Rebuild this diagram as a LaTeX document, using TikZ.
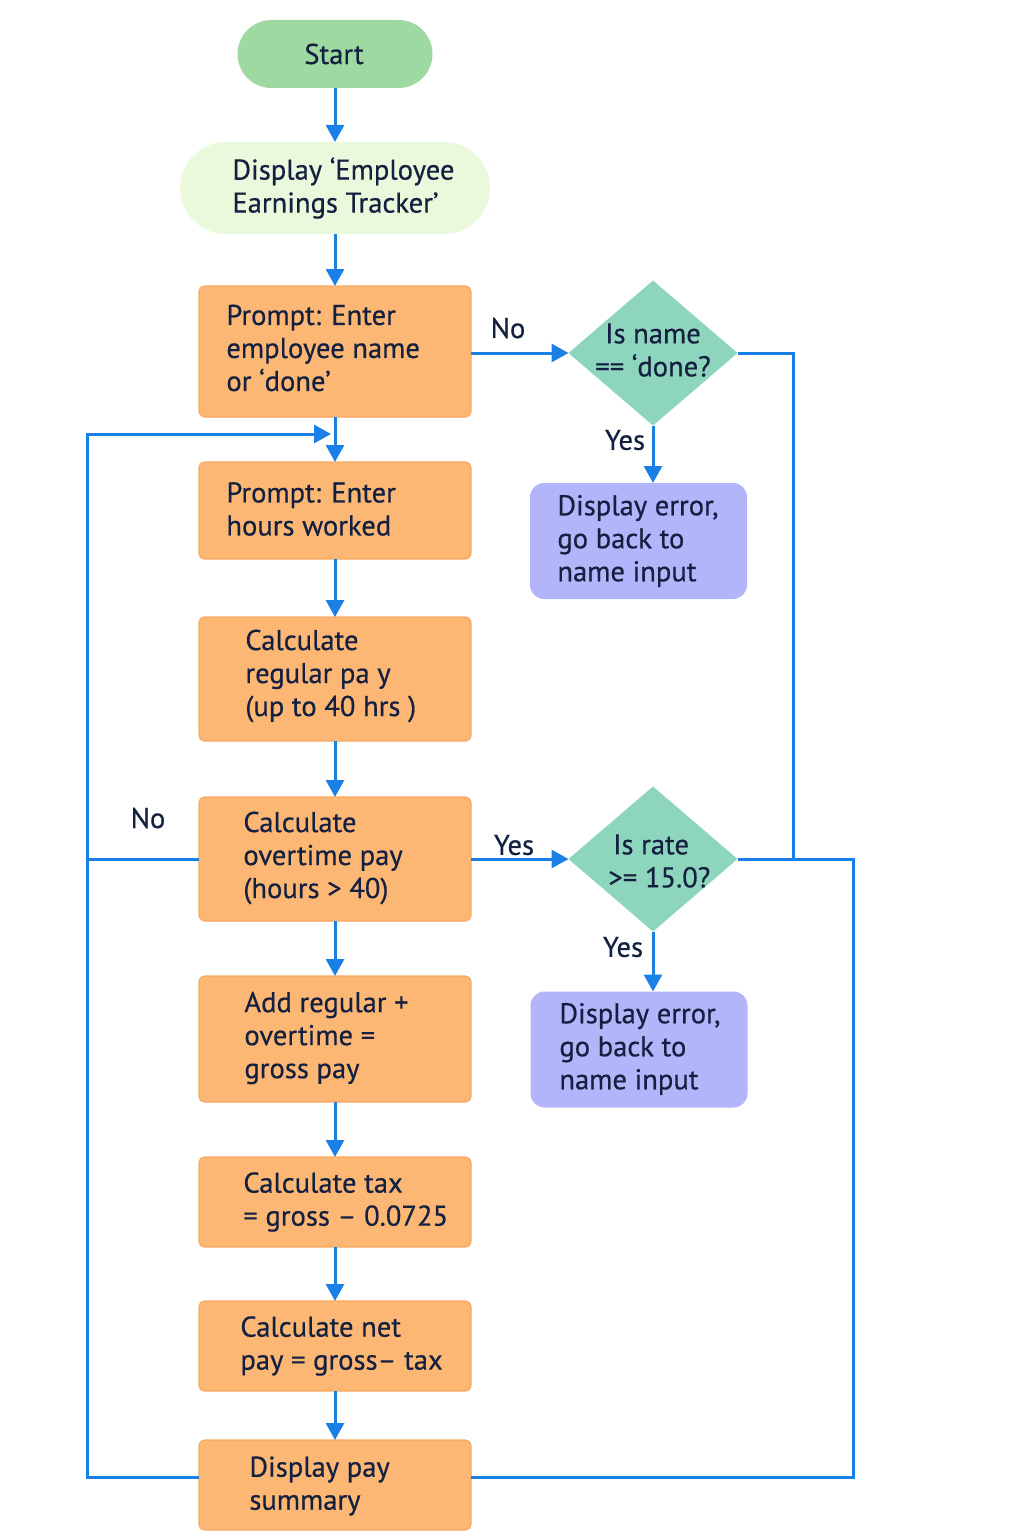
\documentclass[tikz,border=0pt]{standalone}
\usepackage{fontspec}
\setmainfont{PT Sans}[FakeBold=0.5]
\usetikzlibrary{shapes.geometric,arrows.meta,calc}
\definecolor{ink}{HTML}{142040}
\definecolor{startF}{HTML}{9ED9A2}
\definecolor{dispF}{HTML}{EAF8DC}
\definecolor{orangeF}{HTML}{FDB775}
\definecolor{orangeD}{HTML}{F7AA62}
\definecolor{tealF}{HTML}{8ED5BE}
\definecolor{purpleF}{HTML}{B3B5FA}
\definecolor{flowblue}{HTML}{1A80E6}
\begin{document}
\begin{tikzpicture}[x=0.5pt,y=-0.5pt,
  shp/.style={inner sep=0pt, outer sep=0pt},
  proc/.style={shp, rectangle, rounded corners=3pt, fill=orangeF, draw=orangeD, line width=0.6pt, minimum width=136pt},
  errbox/.style={shp, rectangle, rounded corners=7pt, fill=purpleF, minimum width=108.5pt, minimum height=58pt},
  dec/.style={shp, diamond, fill=tealF, minimum width=84.5pt, minimum height=72.5pt},
  term/.style={shp, rectangle},
  txt/.style={font=\fontsize{14.3}{16.5}\selectfont, text=ink, align=left, inner sep=0pt},
  flow/.style={draw=flowblue, line width=1.5pt},
  arr/.style={flow, -{Triangle[length=8.5pt,width=9pt]}}
]
\useasboundingbox (0,0) rectangle (1024,1536);

% shapes
\node[term, fill=startF, rounded corners=17pt, minimum width=97.5pt, minimum height=34pt] (start) at (335,54) {};
\node[term, fill=dispF, rounded corners=23pt, minimum width=155pt, minimum height=46pt] (disp) at (335,188) {};
\node[proc, minimum height=65.5pt] (pname) at (335,351.5) {};
\node[proc, minimum height=48.5pt] (phours) at (335,510.5) {};
\node[proc, minimum height=62pt] (creg) at (335,679) {};
\node[proc, minimum height=62pt] (cover) at (335,859) {};
\node[proc, minimum height=63pt] (add) at (335,1039) {};
\node[proc, minimum height=45pt] (tax) at (335,1202) {};
\node[proc, minimum height=45pt] (net) at (335,1346) {};
\node[proc, minimum height=45pt] (summ) at (335,1485) {};
\node[dec] (d1) at (653,353) {};
\node[dec] (d2) at (653,859) {};
\node[errbox] (err1) at (638.5,541) {};
\node[errbox] (err2) at (639,1049.5) {};

% texts
\node[txt] (startT) at (334,54) {Start};
\node[txt, anchor=west] (dispT) at (232,188) {Display ‘Employee\\Earnings Tracker’};
\node[txt, anchor=west] (pnameT) at (226,348) {Prompt: Enter\\employee name\\or ‘done’};
\node[txt, anchor=west] (phoursT) at (226,509) {Prompt: Enter\\hours worked};
\node[txt, anchor=west] (cregT) at (245,676) {Calculate\\regular pa y\\(up to 40 hrs )};
\node[txt, anchor=west] (coverT) at (243,858) {Calculate\\overtime pay\\(hours > 40)};
\node[txt, anchor=west] (addT) at (244,1038) {Add regular +\\overtime =\\gross pay};
\node[txt, anchor=west] (taxT) at (243,1202) {Calculate tax\\= gross – 0.0725};
\node[txt, anchor=west] (netT) at (240,1346) {Calculate net\\pay = gross– tax};
\node[txt, anchor=west] (summT) at (249,1486) {Display pay\\summary};
\node[txt, anchor=west] (err1T) at (557,541) {Display error,\\go back to\\name input};
\node[txt, anchor=west] (err2T) at (559,1049) {Display error,\\go back to\\name input};
\node[txt, align=center] (d1T) at (653,350) {Is name\\== ‘done?};
\node[txt, anchor=west] (d2T) at (608,861) {\,Is rate\\>= 15.0?};

% labels
\node[txt] (lNo1) at (508,328) {No};
\node[txt] (lYes1) at (625,440) {Yes};
\node[txt] (lNo2) at (148,818) {No};
\node[txt] (lYes2) at (514,845) {Yes};
\node[txt] (lYes3) at (623,947) {Yes};

% helper coordinates
\coordinate (j1) at (793,859);
\coordinate (rb) at (853,1477);
\coordinate (lb) at (87,1477);
\coordinate (lt) at (87,434);
\coordinate (lin) at (331,434);

% connectors
\draw[arr] (start.south) -- (disp.north);
\draw[arr] (disp.south) -- (pname.north);
\draw[arr] (d1.west -| pname.east) -- (d1.west);
\draw[arr] (d1.south) -- (d1.south |- err1.north);
\draw[flow] (d1.east) -| (j1);
\draw[arr] (pname.south) -- (phours.north);
\draw[arr] (phours.south) -- (creg.north);
\draw[arr] (creg.south) -- (cover.north);
\draw[arr] (cover.south) -- (add.north);
\draw[arr] (add.south) -- (tax.north);
\draw[arr] (tax.south) -- (net.north);
\draw[arr] (net.south) -- (summ.north);
\draw[arr] (cover.east) -- (d2.west);
\draw[arr] (d2.south) -- (d2.south |- err2.north);
\draw[flow] (d2.east) -| (rb) -- (rb -| summ.east);
\draw[flow] (cover.west) -- (cover.west -| lb);
\draw[arr] (lb -| summ.west) -- (lb) -- (lt) -- (lin);
\end{tikzpicture}
\end{document}
